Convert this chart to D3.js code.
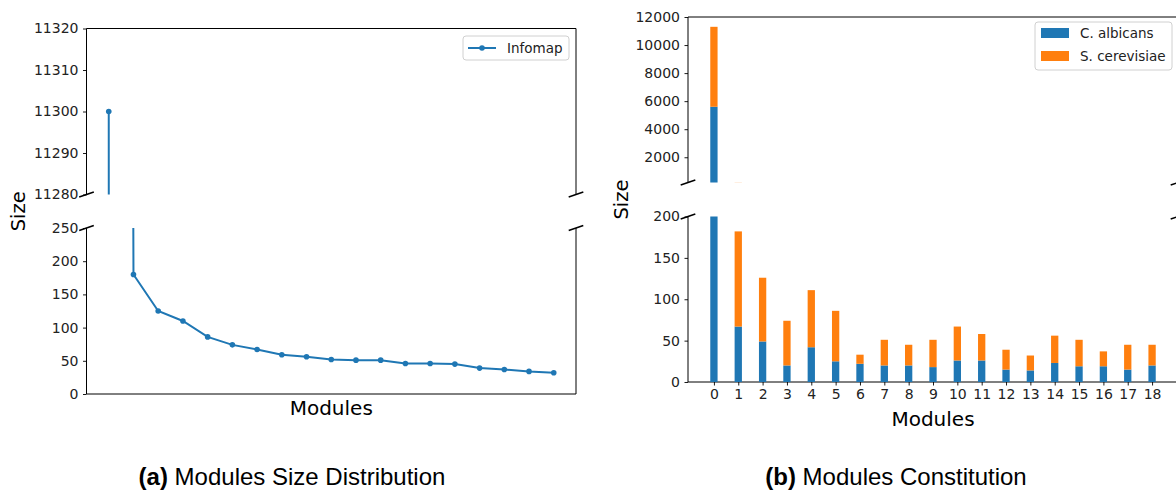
<!DOCTYPE html>
<html>
<head>
<meta charset="utf-8">
<script src="https://cdn.jsdelivr.net/npm/d3@7"></script>
<style>
  body { margin: 0; background: #fff; }
  svg { display: block; font-family: "DejaVu Sans", sans-serif; }
</style>
</head>
<body>
<div id="chart"></div>
<script>
// module sizes, sorted (panel a)
const moduleSizes = [11300, 180, 125, 110, 86, 74, 67, 59, 56, 52, 51, 51, 46, 46, 45, 39, 37, 34, 32];
// module constitution (panel b)
const modules = d3.range(19);
const albicans = [5600, 67, 49, 20, 42, 25, 22, 20, 20, 18, 26, 26, 15, 14, 23, 19, 19, 15, 20];
const cerevisiae = [5700, 115, 77, 54, 69, 61, 11, 31, 25, 33, 41, 32, 24, 18, 33, 32, 18, 30, 25];
const speciesNames = ["C. albicans", "S. cerevisiae"];
const leftTopTicks = [11280, 11290, 11300, 11310, 11320];
const leftBottomTicks = [0, 50, 100, 150, 200, 250];
const rightTopTicks = [2000, 4000, 6000, 8000, 10000, 12000];
const rightBottomTicks = [0, 50, 100, 150, 200];

const blue = "#1f77b4", orange = "#ff7f0e";
const W = 1176, H = 491;
const font = "'DejaVu Sans', sans-serif";

const svg = d3.select("#chart").append("svg")
    .attr("width", W)
    .attr("height", H);

let clipId = 0;

// draw one broken-axis panel: returns the g with a clip rect
function panel(x0, x1, y0, y1, yScale, ticks, showTop, showBottom) {
    const g = svg.append("g");
    const id = "clip" + (clipId++);
    svg.append("clipPath").attr("id", id)
        .append("rect").attr("x", x0).attr("y", y0).attr("width", x1 - x0).attr("height", y1 - y0);

    const yAxis = d3.axisLeft(yScale).tickValues(ticks).tickSize(3.5).tickPadding(4.5).tickFormat(d3.format("d"));
    const ax = g.append("g").attr("transform", `translate(${x0},0)`).call(yAxis)
        .attr("font-family", font);
    ax.select(".domain").remove();
    ax.selectAll("text").style("font-size", "14px").attr("fill", "#222");
    ax.selectAll("line").attr("stroke", "#000").attr("stroke-width", 0.9);

    const spine = (xa, ya, xb, yb) => g.append("line")
        .attr("x1", xa).attr("y1", ya).attr("x2", xb).attr("y2", yb)
        .attr("stroke", "#000").attr("stroke-width", 1);
    spine(x0, y0, x0, y1);
    spine(x1, y0, x1, y1);
    if (showTop) spine(x0, y0, x1, y0);
    if (showBottom) spine(x0, y1, x1, y1);

    const plot = g.append("g").attr("clip-path", `url(#${id})`);
    return { g, plot };
}

// diagonal break marks
function breakMarks(x0, x1, yTopPanelBottom, yBottomPanelTop) {
    const dx = 7.3, dy = 2.5;
    [x0, x1].forEach(x => {
        [yTopPanelBottom, yBottomPanelTop].forEach(y => {
            svg.append("line")
                .attr("x1", x - dx).attr("y1", y + dy)
                .attr("x2", x + dx).attr("y2", y - dy)
                .attr("stroke", "#000").attr("stroke-width", 1.5);
        });
    });
}

// ---------- panel (a) ----------
const aX0 = 86.5, aX1 = 576;
const aTopY = [28.5, 194.5], aBotY = [228, 394];
const xa = d3.scaleLinear().domain([-0.9, 18.9]).range([aX0, aX1]);
const yaTop = d3.scaleLinear().domain([11280, 11320]).range([aTopY[1], aTopY[0]]);
const yaBot = d3.scaleLinear().domain([0, 250]).range([aBotY[1], aBotY[0]]);

[[yaTop, aTopY, leftTopTicks, true, false], [yaBot, aBotY, leftBottomTicks, false, true]].forEach(([ys, yr, ticks, t, b]) => {
    const p = panel(aX0, aX1, yr[0], yr[1], ys, ticks, t, b);
    const line = d3.line().x((d, i) => xa(i)).y(d => ys(d));
    p.plot.append("path")
        .datum(moduleSizes)
        .attr("d", line)
        .attr("fill", "none")
        .attr("stroke", blue)
        .attr("stroke-width", 2);
    p.plot.selectAll("circle")
        .data(moduleSizes)
        .enter()
        .append("circle")
        .attr("cx", (d, i) => xa(i))
        .attr("cy", d => ys(d))
        .attr("r", 2.8)
        .attr("fill", blue);
});
breakMarks(aX0, aX1, aTopY[1], aBotY[0]);

// legend (a)
const legA = svg.append("g").attr("transform", "translate(463,36)");
legA.append("rect").attr("width", 106).attr("height", 24).attr("rx", 3)
    .attr("fill", "#fff").attr("stroke", "#d0d0d0");
legA.append("line").attr("x1", 5).attr("x2", 33).attr("y1", 12).attr("y2", 12)
    .attr("stroke", blue).attr("stroke-width", 2);
legA.append("circle").attr("cx", 19).attr("cy", 12).attr("r", 2.8).attr("fill", blue);
legA.append("text").attr("x", 44).attr("y", 12).attr("dy", "0.35em")
    .style("font-size", "13.5px").attr("fill", "#222").text("Infomap");

svg.append("text")
    .attr("x", (aX0 + aX1) / 2).attr("y", 408).attr("dy", "0.35em")
    .attr("text-anchor", "middle").style("font-size", "20px").text("Modules");
svg.append("text")
    .attr("transform", `translate(18,${(aTopY[0] + aBotY[1]) / 2}) rotate(-90)`)
    .attr("dy", "0.35em")
    .attr("text-anchor", "middle").style("font-size", "19.5px").text("Size");

// ---------- panel (b) ----------
const bX0 = 688, bX1 = 1178;
const bTopY = [17, 182.5], bBotY = [216.5, 382];
const barW = 0.3;
const xb = d3.scaleLinear().domain([-1.065, 19.065]).range([bX0, bX1]);
const ybTop = d3.scaleLinear().domain([200, 12000]).range([bTopY[1], bTopY[0]]);
const ybBot = d3.scaleLinear().domain([0, 200]).range([bBotY[1], bBotY[0]]);

const stackData = modules.map(i => ({ m: i, "C. albicans": albicans[i], "S. cerevisiae": cerevisiae[i] }));
const series = d3.stack().keys(speciesNames)(stackData);
const color = d3.scaleOrdinal().domain(speciesNames).range([blue, orange]);

[[ybTop, bTopY, rightTopTicks, true, false], [ybBot, bBotY, rightBottomTicks, false, true]].forEach(([ys, yr, ticks, t, b]) => {
    const p = panel(bX0, bX1, yr[0], yr[1], ys, ticks, t, b);
    p.plot.selectAll("g.series")
        .data(series)
        .enter()
        .append("g")
        .attr("fill", d => color(d.key))
        .selectAll("rect")
        .data(d => d)
        .enter()
        .append("rect")
        .attr("x", d => xb(d.data.m - barW / 2))
        .attr("width", xb(barW) - xb(0))
        .attr("y", d => Math.max(ys(d[1]), -10))
        .attr("height", d => Math.min(ys(d[0]), 1000) - Math.max(ys(d[1]), -10));
});
// x axis (b)
const xAxisB = d3.axisBottom(xb).tickValues(modules).tickSize(3.5).tickPadding(4).tickFormat(d3.format("d"));
const axB = svg.append("g").attr("transform", `translate(0,${bBotY[1]})`).call(xAxisB)
    .attr("font-family", font);
axB.select(".domain").remove();
axB.selectAll("text").style("font-size", "14px").attr("fill", "#222");
axB.selectAll("line").attr("stroke", "#000").attr("stroke-width", 0.9);
breakMarks(bX0, bX1, bTopY[1], bBotY[0]);

// legend (b)
const legB = svg.append("g").attr("transform", "translate(1035,22)");
legB.append("rect").attr("width", 137).attr("height", 48).attr("rx", 3)
    .attr("fill", "#fff").attr("stroke", "#d0d0d0");
legB.selectAll("rect.patch")
    .data(speciesNames)
    .enter()
    .append("rect")
    .attr("class", "patch")
    .attr("x", 6)
    .attr("y", (d, i) => 6 + i * 23)
    .attr("width", 28)
    .attr("height", 10)
    .attr("fill", d => color(d));
legB.selectAll("text")
    .data(speciesNames)
    .enter()
    .append("text")
    .attr("x", 45)
    .attr("y", (d, i) => 11 + i * 23)
    .attr("dy", "0.35em")
    .style("font-size", "13.5px")
    .attr("fill", "#222")
    .text(d => d);

svg.append("text")
    .attr("x", (bX0 + bX1) / 2).attr("y", 419).attr("dy", "0.35em")
    .attr("text-anchor", "middle").style("font-size", "20px").text("Modules");
svg.append("text")
    .attr("transform", `translate(621,${(bTopY[0] + bBotY[1]) / 2}) rotate(-90)`)
    .attr("dy", "0.35em")
    .attr("text-anchor", "middle").style("font-size", "19.5px").text("Size");

// ---------- captions ----------
const captions = [
    { x: 292, label: "(a)", text: " Modules Size Distribution" },
    { x: 896, label: "(b)", text: " Modules Constitution" }
];
captions.forEach(c => {
    const t = svg.append("text")
        .attr("x", c.x).attr("y", 477).attr("dy", "0.35em")
        .attr("text-anchor", "middle")
        .style("font-family", "'Liberation Sans', Arial, sans-serif")
        .style("font-size", "24px");
    t.append("tspan").style("font-weight", "bold").text(c.label);
    t.append("tspan").text(c.text);
});
</script>
</body>
</html>
